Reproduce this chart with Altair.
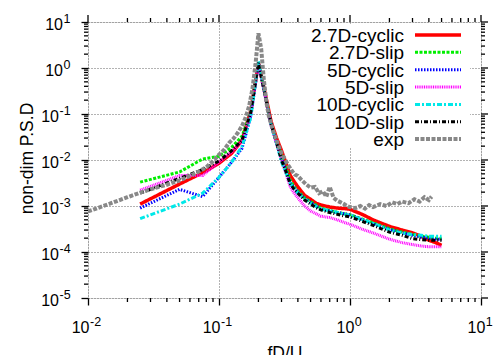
import altair as alt
import pandas as pd

# ---------------- data ----------------
FREQ = [0.025, 0.05, 0.075, 0.1, 0.125, 0.15, 0.175, 0.2, 0.225, 0.25, 0.275, 0.3,
        0.325, 0.35, 0.375, 0.4, 0.45, 0.5, 0.55, 0.6, 0.7, 0.8, 0.9, 1.0, 1.25,
        1.5, 2.0, 2.5, 3.0, 3.5, 4.0, 4.5, 5.0]

CYCLIC_27 = [1.1e-3, 3.0e-3, 5.3e-3, 8.5e-3, 1.4e-2, 2.7e-2, 1.2e-1, 1.3, 2.8e-1, 6.8e-2,
             3.0e-2, 1.6e-2, 8.5e-3, 4.6e-3, 3.4e-3, 2.6e-3, 1.7e-3, 1.4e-3, 1.15e-3,
             1.05e-3, 9.5e-4, 9.0e-4, 8.8e-4, 8.5e-4, 6.5e-4, 5.0e-4, 3.6e-4, 3.0e-4,
             2.6e-4, 2.2e-4, 1.8e-4, 1.6e-4, 1.4e-4]
SLIP_27 = [3.3e-3, 5.5e-3, 1.05e-2, 1.2e-2, 1.9e-2, 3.3e-2, 1.1e-1, 1.3, 2.5e-1, 6.0e-2,
           2.5e-2, 1.2e-2, 6.5e-3, 3.6e-3, 2.6e-3, 2.1e-3, 1.5e-3, 1.25e-3, 1.05e-3,
           9.0e-4, 8.0e-4, 7.3e-4, 6.8e-4, 6.5e-4, 5.2e-4, 4.3e-4, 3.2e-4, 2.7e-4,
           2.4e-4, 2.2e-4, 2.1e-4, 2.0e-4, 2.0e-4]
CYCLIC_5 = [9.0e-4, 2.3e-3, 1.6e-3, 4.2e-3, 9.0e-3, 1.8e-2, 9.0e-2, 1.3, 2.6e-1, 5.8e-2,
            2.4e-2, 1.1e-2, 5.8e-3, 3.2e-3, 2.5e-3, 2.0e-3, 1.45e-3, 1.2e-3, 1.0e-3,
            8.6e-4, 7.8e-4, 7.2e-4, 6.8e-4, 6.4e-4, 5.0e-4, 4.1e-4, 3.1e-4, 2.6e-4,
            2.3e-4, 2.1e-4, 2.0e-4, 1.9e-4, 1.9e-4]
SLIP_5 = [2.2e-3, 4.6e-3, 4.6e-3, 9.0e-3, 1.5e-2, 2.6e-2, 1.0e-1, 1.2, 2.4e-1, 5.5e-2,
          2.2e-2, 1.0e-2, 5.0e-3, 2.6e-3, 1.9e-3, 1.5e-3, 1.0e-3, 7.8e-4, 6.8e-4,
          6.0e-4, 5.6e-4, 5.0e-4, 4.4e-4, 4.0e-4, 3.1e-4, 2.6e-4, 1.9e-4, 1.6e-4,
          1.45e-4, 1.35e-4, 1.3e-4, 1.3e-4, 1.3e-4]
CYCLIC_10 = [5.3e-4, 1.1e-3, 1.9e-3, 4.2e-3, 9.0e-3, 2.0e-2, 8.5e-2, 1.4, 2.7e-1, 5.6e-2,
             2.3e-2, 9.0e-3, 5.2e-3, 3.1e-3, 2.4e-3, 1.9e-3, 1.4e-3, 1.15e-3, 9.8e-4,
             8.6e-4, 7.8e-4, 7.2e-4, 6.6e-4, 6.3e-4, 5.0e-4, 4.2e-4, 3.0e-4, 2.6e-4,
             2.4e-4, 2.3e-4, 2.2e-4, 2.2e-4, 2.2e-4]
SLIP_10 = [1.9e-3, 4.0e-3, 6.2e-3, 9.5e-3, 1.6e-2, 2.7e-2, 1.1e-1, 1.3, 2.6e-1, 6.0e-2,
           2.4e-2, 1.0e-2, 5.5e-3, 3.0e-3, 2.3e-3, 1.9e-3, 1.35e-3, 1.1e-3, 9.2e-4,
           8.2e-4, 7.2e-4, 6.6e-4, 6.1e-4, 5.8e-4, 4.6e-4, 3.8e-4, 2.7e-4, 2.3e-4,
           1.95e-4, 1.85e-4, 1.8e-4, 1.8e-4, 1.8e-4]

EXP_FREQ = [0.01, 0.015, 0.02, 0.025, 0.03, 0.04, 0.05, 0.06, 0.07, 0.08, 0.09, 0.1,
            0.11, 0.12, 0.13, 0.14, 0.15, 0.16, 0.17, 0.18, 0.19, 0.2, 0.21, 0.22,
            0.23, 0.24, 0.26, 0.28, 0.3, 0.32, 0.34, 0.36, 0.38, 0.4, 0.43, 0.46,
            0.5, 0.54, 0.58, 0.62, 0.66, 0.7, 0.75, 0.8, 0.85, 0.9, 0.95, 1.0, 1.1,
            1.2, 1.3, 1.4, 1.5, 1.7, 1.9, 2.1, 2.3, 2.5, 2.8, 3.1, 3.4, 3.7, 4.0, 4.2]
EXP_PSD = [7.6e-4, 1.15e-3, 1.55e-3, 1.95e-3, 2.3e-3, 2.9e-3, 3.6e-3, 4.5e-3, 5.6e-3,
           7.0e-3, 9.5e-3, 1.3e-2, 1.7e-2, 2.4e-2, 3.0e-2, 4.0e-2, 5.5e-2, 8.5e-2,
           1.5e-1, 3.5e-1, 1.2, 5.7, 2.6, 5.5e-1, 1.8e-1, 9.0e-2, 4.2e-2, 2.3e-2,
           1.4e-2, 1.0e-2, 7.5e-3, 5.8e-3, 4.8e-3, 4.5e-3, 3.6e-3, 3.0e-3, 2.5e-3,
           2.6e-3, 1.9e-3, 2.1e-3, 1.6e-3, 2.6e-3, 1.5e-3, 1.3e-3, 1.2e-3, 1.1e-3,
           1.0e-3, 9.5e-4, 9.0e-4, 1.0e-3, 8.8e-4, 1.05e-3, 9.5e-4, 1.1e-3, 1.0e-3,
           1.2e-3, 1.1e-3, 1.25e-3, 1.15e-3, 1.4e-3, 1.25e-3, 1.55e-3, 1.35e-3, 1.6e-3]

SERIES = ["2.7D-cyclic", "2.7D-slip", "5D-cyclic", "5D-slip", "10D-cyclic", "10D-slip", "exp"]
COLORS = ["#ff0000", "#00ee00", "#0000ff", "#ff00ff", "#00e8e8", "#000000", "#888888"]
DASHES = [[1, 0], [3, 1.5], [1.5, 1.5], [1, 0.8], [5, 2, 2, 2], [4, 2, 1, 2], [4, 1.5]]
WIDTHS = [3.5, 3, 3, 3, 3, 3, 4]

X_EXP = [-2, -1, 0, 1]
Y_EXP = [-5, -4, -3, -2, -1, 0, 1]

# ---------------- table building ----------------
rows = []
for name, vals in zip(SERIES[:6], [CYCLIC_27, SLIP_27, CYCLIC_5, SLIP_5, CYCLIC_10, SLIP_10]):
    for f, p in zip(FREQ, vals):
        rows.append({"f": f, "p": p, "s": name})
for f, p in zip(EXP_FREQ, EXP_PSD):
    rows.append({"f": f, "p": p, "s": "exp"})
df = pd.DataFrame(rows)

X_MAJOR = [10.0 ** e for e in X_EXP]
Y_MAJOR = [10.0 ** e for e in Y_EXP]
X_MINOR = [m * 10.0 ** k for k in X_EXP[:-1] for m in range(2, 10)]
Y_MINOR = [m * 10.0 ** k for k in Y_EXP[:-1] for m in range(2, 10)]

W, H = 393, 276
FONT = "Liberation Sans"

xs = alt.Scale(type="log", domain=[0.01, 10], nice=False)
ys = alt.Scale(type="log", domain=[1e-5, 10], nice=False)
cs = alt.Scale(domain=SERIES, range=COLORS)
ds = alt.Scale(domain=SERIES, range=DASHES)
ws = alt.Scale(type="ordinal", domain=SERIES, range=WIDTHS)

lines = alt.Chart(df).mark_line().encode(
    x=alt.X("f:Q", scale=xs, axis=alt.Axis(
        values=X_MAJOR, labels=False, tickSize=7, tickWidth=1.3, tickColor="black",
        domain=False, grid=True, gridDash=[1, 2], gridColor="#666666", gridWidth=1,
        title="fD/U", titleFont=FONT, titleFontSize=17.5, titleFontWeight="normal",
        titleColor="black", titleX=W / 2, titleY=60, titleBaseline="alphabetic",
        titleAlign="center")),
    y=alt.Y("p:Q", scale=ys, axis=alt.Axis(
        values=Y_MAJOR, labels=False, tickSize=7, tickWidth=1.3, tickColor="black",
        domain=False, grid=True, gridDash=[1, 2], gridColor="#666666", gridWidth=1,
        title="non-dim P.S.D", titleFont=FONT, titleFontSize=17.5, titleFontWeight="normal",
        titleColor="black", titleX=-56, titleY=136, titleBaseline="alphabetic",
        titleAlign="center", titleAngle=270)),
    color=alt.Color("s:N", scale=cs, legend=None),
    strokeDash=alt.StrokeDash("s:N", scale=ds, legend=None),
    strokeWidth=alt.StrokeWidth("s:N", scale=ws, legend=None),
)

xmin = pd.DataFrame({"f": X_MINOR})
xmaj = pd.DataFrame({"f": X_MAJOR})
ymin = pd.DataFrame({"p": Y_MINOR})
ymaj = pd.DataFrame({"p": Y_MAJOR})

def xrule(d, y0, y1):
    return alt.Chart(d).mark_rule(color="black", strokeWidth=1.3).encode(
        x=alt.X("f:Q", scale=xs), y=alt.value(y0), y2=alt.value(y1))

def yrule(d, x0, x1):
    return alt.Chart(d).mark_rule(color="black", strokeWidth=1.3).encode(
        y=alt.Y("p:Q", scale=ys), x=alt.value(x0), x2=alt.value(x1))

ticks = [
    xrule(xmin, H, H + 4), xrule(xmin, 0, -4), xrule(xmaj, 0, -7),
    yrule(ymin, 0, -4), yrule(ymin, W, W + 4), yrule(ymaj, W, W + 7),
]

# tick labels: "10" with raised exponent
xl = pd.DataFrame({"f": X_MAJOR, "e": [str(e) for e in X_EXP], "neg": [e < 0 for e in X_EXP]})
yl = pd.DataFrame({"p": Y_MAJOR, "e": [str(e) for e in Y_EXP], "neg": [e < 0 for e in Y_EXP]})

labels = []
for neg, dx in [(True, 1.5), (False, 4.3)]:
    flt = "datum.neg" if neg else "!datum.neg"
    labels.append(alt.Chart(xl).transform_filter(flt).mark_text(
        text="10", align="right", baseline="alphabetic", font=FONT, fontSize=16,
        color="black", dx=dx).encode(x=alt.X("f:Q", scale=xs), y=alt.value(H + 35)))
    labels.append(alt.Chart(xl).transform_filter(flt).mark_text(
        align="left", baseline="alphabetic", font=FONT, fontSize=12.5,
        color="black", dx=dx + 0.5).encode(x=alt.X("f:Q", scale=xs), y=alt.value(H + 28),
                                           text="e:N"))
for neg, xr in [(True, -29), (False, -25)]:
    flt = "datum.neg" if neg else "!datum.neg"
    labels.append(alt.Chart(yl).transform_filter(flt).mark_text(
        text="10", align="right", baseline="alphabetic", font=FONT, fontSize=16,
        color="black", dy=7.5).encode(y=alt.Y("p:Q", scale=ys), x=alt.value(xr)))
    labels.append(alt.Chart(yl).transform_filter(flt).mark_text(
        align="left", baseline="alphabetic", font=FONT, fontSize=12.5,
        color="black", dy=0.5).encode(y=alt.Y("p:Q", scale=ys), x=alt.value(xr + 0.5),
                                      text="e:N"))

main = alt.layer(lines, *ticks, *labels)

# ---------------- key (gnuplot style: name, then line sample) ----------------
key_df = pd.DataFrame({"s": SERIES})
ky = alt.Scale(type="point", domain=SERIES, range=[13, 117.1], padding=0)

key_bg = alt.Chart(key_df).mark_rect(fill="white", stroke=None).encode(
    x=alt.value(202), x2=alt.value(382), y=alt.value(3), y2=alt.value(126))
key_samples = alt.Chart(key_df).mark_rule().encode(
    x=alt.value(327), x2=alt.value(373),
    y=alt.Y("s:N", scale=ky, axis=None),
    color=alt.Color("s:N", scale=cs, legend=None),
    strokeDash=alt.StrokeDash("s:N", scale=ds, legend=None),
    strokeWidth=alt.StrokeWidth("s:N", scale=ws, legend=None),
)
key_names = alt.Chart(key_df).mark_text(
    align="right", baseline="middle", font=FONT, fontSize=19, color="black", dy=1).encode(
    x=alt.value(316), y=alt.Y("s:N", scale=ky, axis=None), text="s:N")

key = alt.layer(key_bg, key_samples, key_names)

chart = alt.layer(main, key).resolve_scale(y="independent").properties(
    width=W, height=H,
    autosize=alt.AutoSizeParams(type="none"),
    padding={"left": 88, "top": 22, "right": 17, "bottom": 57},
).configure_view(stroke="black", strokeWidth=2).configure(background="white")

chart.save("out.html", embed_options={"renderer": "svg", "actions": False})
